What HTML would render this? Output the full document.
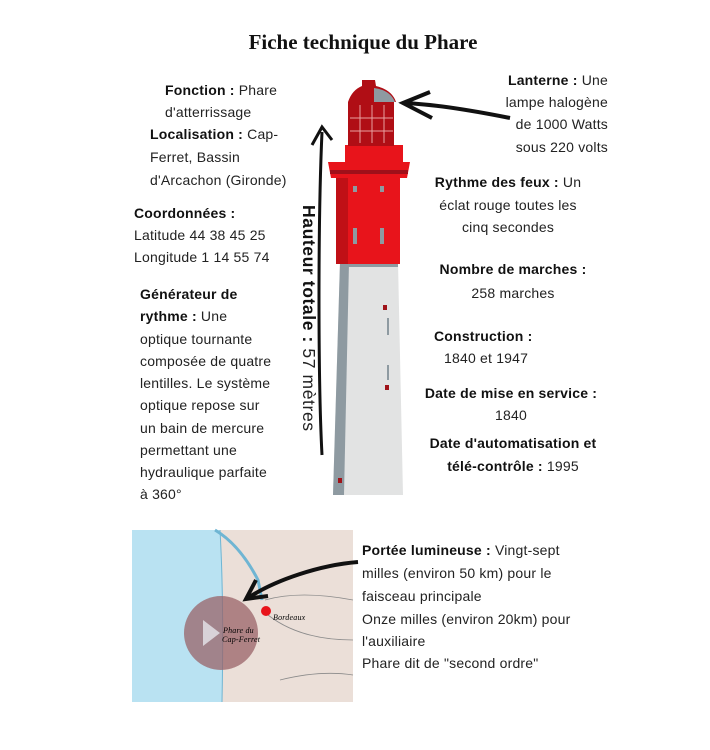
<!DOCTYPE html>
<html><head><meta charset="utf-8">
<style>
body{margin:0;width:710px;height:750px;background:#fff;position:relative;overflow:hidden;font-family:"Liberation Sans",sans-serif;font-size:14px;letter-spacing:0.2px;color:#222;}
.l{position:absolute;white-space:nowrap;line-height:16px;}
b{color:#111;}
.c{transform:translateX(-50%);}
.r{transform:translateX(-100%);}
</style></head><body>
<div class="l c" style="left:363px;top:30px;font-family:'Liberation Serif',serif;font-weight:bold;font-size:21px;line-height:24px;color:#111;letter-spacing:0">Fiche technique du Phare</div>

<div class="l" style="left:165px;top:82px"><b>Fonction :</b> Phare</div>
<div class="l" style="left:165px;top:104px">d'atterrissage</div>
<div class="l" style="left:150px;top:126px"><b>Localisation :</b> Cap-</div>
<div class="l" style="left:150px;top:149px">Ferret, Bassin</div>
<div class="l" style="left:150px;top:172px">d'Arcachon (Gironde)</div>
<div class="l" style="left:134px;top:205px"><b>Coordonnées :</b></div>
<div class="l" style="left:134px;top:227px">Latitude 44 38 45 25</div>
<div class="l" style="left:134px;top:249px">Longitude 1 14 55 74</div>
<div class="l" style="left:140px;top:286px"><b>Générateur de</b></div>
<div class="l" style="left:140px;top:308px"><b>rythme :</b> Une</div>
<div class="l" style="left:140px;top:331px">optique tournante</div>
<div class="l" style="left:140px;top:353px">composée de quatre</div>
<div class="l" style="left:140px;top:375px">lentilles. Le système</div>
<div class="l" style="left:140px;top:397px">optique repose sur</div>
<div class="l" style="left:140px;top:420px">un bain de mercure</div>
<div class="l" style="left:140px;top:442px">permettant une</div>
<div class="l" style="left:140px;top:464px">hydraulique parfaite</div>
<div class="l" style="left:140px;top:486px">à 360°</div>

<div class="l r" style="left:608px;top:72px"><b>Lanterne :</b> Une</div>
<div class="l r" style="left:608px;top:94px">lampe halogène</div>
<div class="l r" style="left:608px;top:116px">de 1000 Watts</div>
<div class="l r" style="left:608px;top:139px">sous 220 volts</div>
<div class="l c" style="left:508px;top:174px"><b>Rythme des feux :</b> Un</div>
<div class="l c" style="left:508px;top:197px">éclat rouge toutes les</div>
<div class="l c" style="left:508px;top:219px">cinq secondes</div>
<div class="l c" style="left:513px;top:261px"><b>Nombre de marches :</b></div>
<div class="l c" style="left:513px;top:285px">258 marches</div>
<div class="l" style="left:434px;top:328px"><b>Construction :</b></div>
<div class="l" style="left:444px;top:350px">1840 et 1947</div>
<div class="l c" style="left:511px;top:385px"><b>Date de mise en service :</b></div>
<div class="l c" style="left:511px;top:407px">1840</div>
<div class="l c" style="left:513px;top:435px"><b>Date d'automatisation et</b></div>
<div class="l c" style="left:513px;top:458px"><b>télé-contrôle :</b> 1995</div>

<div class="l" style="left:362px;top:542px"><b>Portée lumineuse :</b> Vingt-sept</div>
<div class="l" style="left:362px;top:565px">milles (environ 50 km) pour le</div>
<div class="l" style="left:362px;top:588px">faisceau principale</div>
<div class="l" style="left:362px;top:611px">Onze milles (environ 20km) pour</div>
<div class="l" style="left:362px;top:633px">l'auxiliaire</div>
<div class="l" style="left:362px;top:655px">Phare dit de "second ordre"</div>

<div class="l" style="left:318px;top:205px;transform-origin:0 0;transform:rotate(90deg);font-size:17.5px;line-height:19px;letter-spacing:0.6px"><b>Hauteur totale :</b> 57 mètres</div>

<svg width="710" height="750" style="position:absolute;left:0;top:0;pointer-events:none">
<polygon points="340,262 398,262 403,495 333,495" fill="#e2e3e3"/>
<polygon points="340,262 349,262 344,495 333,495" fill="#8e9aa1"/>
<rect x="340" y="262" width="58" height="5" fill="#8e9aa1"/>
<rect x="383" y="305" width="4" height="5" fill="#a0141a"/>
<rect x="385" y="385" width="4" height="5" fill="#a0141a"/>
<rect x="338" y="478" width="4" height="5" fill="#a0141a"/>
<line x1="388" y1="318" x2="388" y2="335" stroke="#8e9aa1" stroke-width="2"/>
<line x1="388" y1="365" x2="388" y2="380" stroke="#8e9aa1" stroke-width="2"/>
<rect x="336" y="172" width="64" height="92" fill="#e8141b"/>
<rect x="336" y="172" width="12" height="92" fill="#c01016"/>
<polygon points="328,162 410,162 407,178 331,178" fill="#e8141b"/>
<rect x="330" y="170" width="78" height="4" fill="#a0101a"/>
<rect x="345" y="145" width="58" height="18" fill="#e8141b"/>
<rect x="348" y="102" width="46" height="44" fill="#b00e15"/>
<path d="M348,102 Q352,90 362,86 L362,80 L375,80 L376,86 Q392,90 396,102 Z" fill="#b00e15"/>
<path d="M374,88 Q390,90 395,102 L374,102 Z" fill="#8e9aa1"/>
<g stroke="#e8a0a0" stroke-width="1" fill="none"><line x1="360" y1="105" x2="360" y2="143"/><line x1="372" y1="105" x2="372" y2="143"/><line x1="384" y1="105" x2="384" y2="143"/><line x1="350" y1="118" x2="393" y2="118"/><line x1="350" y1="131" x2="393" y2="131"/></g>
<rect x="353" y="186" width="4" height="6" fill="#8e9aa1"/><rect x="380" y="186" width="4" height="6" fill="#8e9aa1"/>
<rect x="353" y="228" width="4" height="16" fill="#8e9aa1"/><rect x="380" y="228" width="4" height="16" fill="#8e9aa1"/>
<path d="M510,118 C470,110 430,104 403,103" stroke="#111" stroke-width="4" fill="none"/>
<path d="M430,92 L403,103 L432,118" stroke="#111" stroke-width="4" fill="none"/>
<path d="M322,455 C318,380 318,220 322,132" stroke="#111" stroke-width="3" fill="none"/>
<path d="M312,145 L322,127 L332,140" stroke="#111" stroke-width="3" fill="none"/>
<rect x="132" y="530" width="221" height="172" fill="#ebdfd8"/>
<path d="M132,530 L220,530 Q225,600 222,702 L132,702 Z" fill="#b9e2f2"/>
<path d="M220,530 Q224,600 222,702" stroke="#6fb5d3" stroke-width="1" fill="none"/>
<path d="M215,530 Q240,545 258,580 L262,600" stroke="#6fb5d3" stroke-width="3" fill="none"/>
<g stroke="#8a8a8a" stroke-width="0.8" fill="none"><path d="M265,600 Q300,590 353,600"/><path d="M268,615 Q300,640 353,640"/><path d="M280,680 Q320,670 353,675"/></g>
<circle cx="221" cy="633" r="37" fill="#9a6368" opacity="0.75"/>
<polygon points="203,620 203,646 220,633" fill="#d8d2d8"/>
<circle cx="266" cy="611" r="5" fill="#e8141b"/>
<text x="273" y="620" font-family="Liberation Serif,serif" font-style="italic" font-size="8">Bordeaux</text>
<text x="223" y="633" font-family="Liberation Serif,serif" font-style="italic" font-size="8">Phare du</text>
<text x="222" y="642" font-family="Liberation Serif,serif" font-style="italic" font-size="8">Cap-Ferret</text>
<path d="M358,562 C320,565 275,580 248,598" stroke="#111" stroke-width="4" fill="none"/>
<path d="M256,580 L246,599 L268,596" stroke="#111" stroke-width="4" fill="none"/>
</svg>
</body></html>
